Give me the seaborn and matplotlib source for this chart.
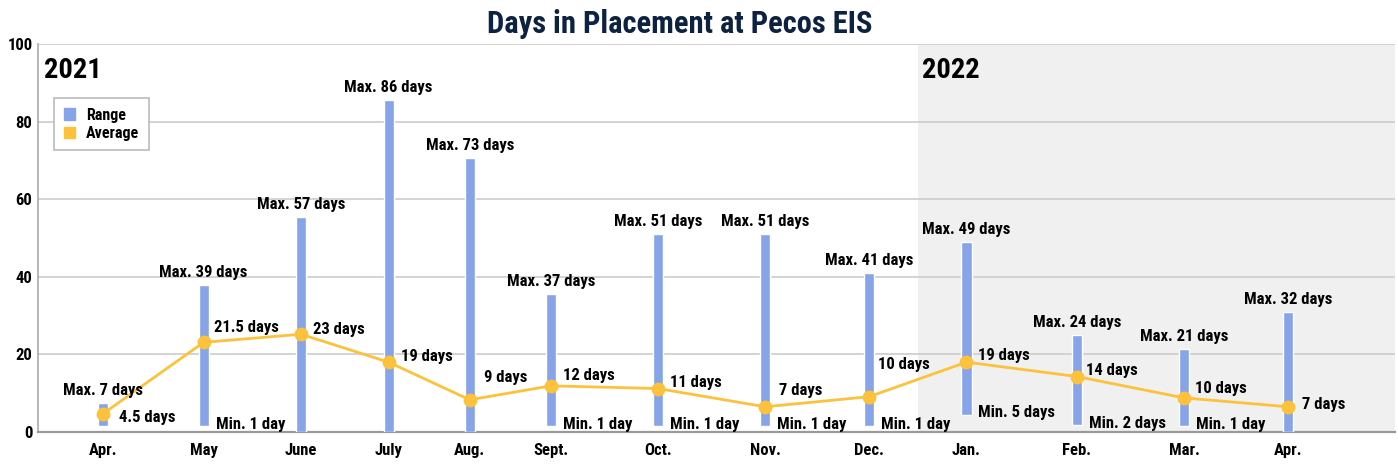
import matplotlib
matplotlib.use("Agg")
import matplotlib.pyplot as plt
import matplotlib.dates as mdates
import matplotlib.patheffects as pe
from matplotlib import font_manager
from matplotlib.patches import Patch
import pandas as pd
import seaborn as sns

# Values
dates = ["2021-04-20", "2021-05-21", "2021-06-20", "2021-07-17", "2021-08-11",
         "2021-09-05", "2021-10-08", "2021-11-10", "2021-12-12", "2022-01-11",
         "2022-02-14", "2022-03-19", "2022-04-20"]
months = ["Apr.", "May", "June", "July", "Aug.", "Sept.", "Oct.", "Nov.", "Dec.",
          "Jan.", "Feb.", "Mar.", "Apr."]
range_low = [1.5, 1.5, 0, 0, 0, 1.5, 1.5, 1.5, 1.5, 4.5, 1.8, 1.5, 0]
range_high = [7.5, 38, 55.5, 85.5, 70.5, 35.5, 51, 51, 41, 49, 25, 21.5, 31]
average = [4.7, 23.1, 25.2, 18.0, 8.3, 11.9, 11.2, 6.5, 9.1, 18.0, 14.3, 8.8, 6.5]
max_labels = ["Max. 7 days", "Max. 39 days", "Max. 57 days", "Max. 86 days",
              "Max. 73 days", "Max. 37 days", "Max. 51 days", "Max. 51 days",
              "Max. 41 days", "Max. 49 days", "Max. 24 days", "Max. 21 days",
              "Max. 32 days"]
min_labels = [None, "Min. 1 day", None, None, None, "Min. 1 day", "Min. 1 day",
              "Min. 1 day", "Min. 1 day", "Min. 5 days", "Min. 2 days", "Min. 1 day", None]
avg_labels = ["4.5 days", "21.5 days", "23 days", "19 days", "9 days", "12 days",
              "11 days", "7 days", "10 days", "19 days", "14 days", "10 days", "7 days"]

# label nudges (pixels) so the average labels sit where the original put them
avg_dx = [16, 10, 12, 12, 14, 12, 12, 14, 9, 12, 9, 11, 14]
avg_dy = [-4, 15, 5, 6, 22, 10, 6, 16, 32, 7, 6, 9, 2]

BAR_COLOR = "#87a4e8"
LINE_COLOR = "#fcc23c"
GRID_COLOR = "#cccccc"
PX = 72 / 100  # points per pixel at dpi 100


def is_bold(w):
    if isinstance(w, int):
        return w >= 600
    return str(w).lower() in ("bold", "heavy", "black", "semibold", "demibold",
                              "extra bold", "ultrabold", "demi")


sns.set_theme(style="white")
fonts = font_manager.fontManager.ttflist
family, has_bold = "DejaVu Sans", True
for name in ["Oswald", "Roboto Condensed", "Liberation Sans Narrow"]:
    weights = [f.weight for f in fonts if f.name == name]
    if any(is_bold(w) for w in weights):
        family, has_bold = name, True
        break
else:
    for name in ["Oswald", "Roboto Condensed"]:
        if any(f.name == name for f in fonts):
            family, has_bold = name, False
            break
plt.rcParams["font.family"] = [family, "DejaVu Sans"]
plt.rcParams["font.weight"] = "bold"
plt.rcParams["text.color"] = "black"
# variable fonts come in at one weight only: thicken the strokes instead
if not has_bold:
    plt.rcParams["path.effects"] = [pe.withStroke(linewidth=0.9, foreground="black")]

df = pd.DataFrame({"date": pd.to_datetime(dates), "low": range_low,
                   "high": range_high, "average": average})
df["x"] = mdates.date2num(df["date"])

fig = plt.figure(figsize=(13.98, 4.66), dpi=100)
ax = fig.add_axes([38 / 1398, 34 / 466, 1357 / 1398, 388 / 466])

x_left = mdates.date2num(pd.Timestamp("2021-03-31"))
x_right = mdates.date2num(pd.Timestamp("2022-05-23"))
ax.set_xlim(x_left, x_right)
ax.set_ylim(0, 100)

# 2022 shading starts halfway between Dec. and Jan.
shade_start = (df["x"].iloc[8] + df["x"].iloc[9]) / 2
ax.axvspan(shade_start, x_right, color="#f0f0f0", zorder=0, lw=0, path_effects=[])

ax.set_axisbelow(True)
ax.yaxis.grid(True, color=GRID_COLOR, lw=1.2, path_effects=[])
ax.set_yticks(range(0, 101, 20))

# Range bars
ax.bar(df["x"], df["high"] - df["low"], bottom=df["low"], width=3.1,
       color=BAR_COLOR, zorder=3, path_effects=[])

# Average line
sns.lineplot(data=df, x="x", y="average", color=LINE_COLOR, marker="o",
             markersize=10, markeredgewidth=0, linewidth=2, ax=ax, zorder=4,
             legend=False, path_effects=[])

fs = 12
for i, row in df.iterrows():
    ax.annotate(max_labels[i], (row["x"], row["high"]), xytext=(0, 5 * PX),
                textcoords="offset points", ha="center", va="bottom",
                fontsize=fs, zorder=5)
    if min_labels[i]:
        ax.annotate(min_labels[i], (row["x"], row["low"]), xytext=(12 * PX, 2 * PX),
                    textcoords="offset points", ha="left", va="center",
                    fontsize=fs, zorder=5)
    ax.annotate(avg_labels[i], (row["x"], row["average"]),
                xytext=(avg_dx[i] * PX, avg_dy[i] * PX),
                textcoords="offset points", ha="left", va="center",
                fontsize=fs, zorder=5)

ax.set_xticks(df["x"])
ax.set_xticklabels(months)
ax.set_xlabel("")
ax.set_ylabel("")
ax.tick_params(axis="x", length=0, pad=8, labelsize=12, colors="black")
ax.tick_params(axis="y", length=0, pad=4, labelsize=12, colors="black")

for side in ["top", "right"]:
    ax.spines[side].set_visible(False)
ax.spines["left"].set_color("#aaaaaa")
ax.spines["left"].set_linewidth(1.2)
ax.spines["bottom"].set_color("#999999")
ax.spines["bottom"].set_linewidth(1.6)
for sp in ax.spines.values():
    sp.set_path_effects([])

# Year markers
ax.text(6 / 1357, 1 - 13 / 388, "2021", transform=ax.transAxes, ha="left",
        va="top", fontsize=20.5)
ax.text(shade_start + 1.2, 100 - 13 / 3.88, "2022", ha="left", va="top", fontsize=20.5)

handles = [Patch(color=BAR_COLOR, label="Range"), Patch(color=LINE_COLOR, label="Average")]
leg = ax.legend(handles=handles, loc="upper left",
                bbox_to_anchor=(16 / 1357, (432 - 98) / 388), borderaxespad=0,
                fontsize=11.5, handlelength=0.7, handleheight=0.7,
                handletextpad=0.7, labelspacing=0.2, borderpad=0.6,
                fancybox=False, edgecolor="#bbbbbb", framealpha=1)
leg.get_frame().set_linewidth(1.2)
leg.get_frame().set_path_effects([])
for h in leg.legend_handles:
    h.set_path_effects([])

title_fx = [pe.withStroke(linewidth=1.2, foreground="#0d2240")] if not has_bold else []
fig.text(680 / 1398, 1 - 33 / 466, "Days in Placement at Pecos EIS", ha="center",
         va="baseline", fontsize=22, color="#0d2240", path_effects=title_fx)

fig.savefig("out.png", dpi=100)
